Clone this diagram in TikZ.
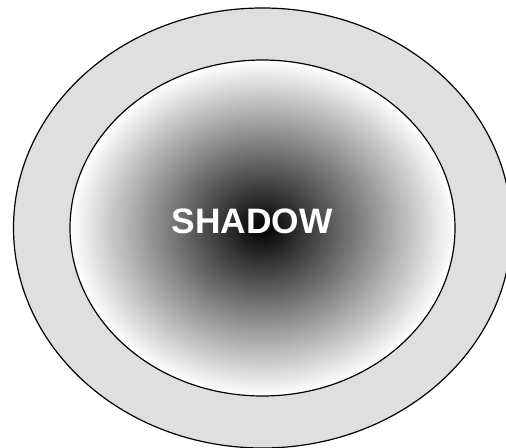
\documentclass[tikz,border=0pt]{standalone}
\usepackage{fontspec}
\setmainfont{Liberation Sans}
\definecolor{ringgray}{HTML}{DFDFDF}
\begin{document}
\begin{tikzpicture}[x=0.75pt,y=-0.75pt,line width=0.9pt]
\useasboundingbox (0,0) rectangle (506,447);
\clip (0,0) rectangle (506,447);
\coordinate (O) at (262.5,228);

\draw[fill=ringgray] (O) ellipse [x radius=249, y radius=220];
\draw[inner color=black, outer color=white] (O) ellipse [x radius=192.5, y radius=168];

\node[text=white, font=\fontsize{26.5pt}{30pt}\selectfont\bfseries] (shadow) at (252,221) {SHADOW};
\end{tikzpicture}
\end{document}
